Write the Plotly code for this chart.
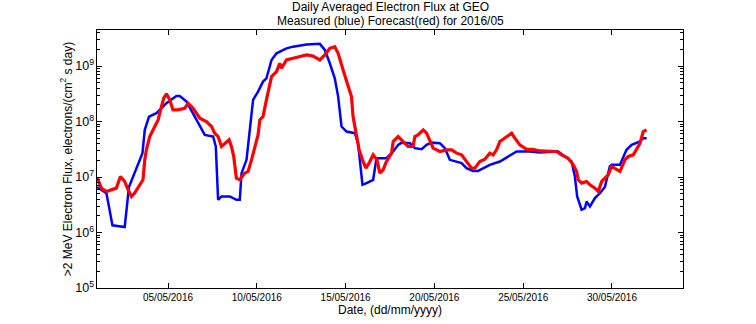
import plotly.graph_objects as go
import pandas as pd

# Measured (blue): day of May 2016 (fractional) and log10 flux
meas_day = [1.00, 1.53, 1.87, 2.56, 2.80, 3.12, 3.41, 3.56, 3.69, 3.93, 4.35, 4.91, 5.47, 5.66,
            6.04, 6.41, 6.79, 7.07, 7.54, 7.69, 7.82, 8.01, 8.48, 8.85, 9.04, 9.14, 9.42, 9.60,
            9.79, 10.07, 10.35, 10.54, 10.83, 11.11, 11.67, 12.04, 12.80, 13.55, 13.83, 14.11,
            14.39, 14.58, 14.77, 15.05, 15.52, 15.70, 15.95, 16.18, 16.55, 16.74, 17.30, 17.68,
            17.96, 18.15, 18.62, 18.90, 19.28, 19.56, 19.84, 20.31, 20.59, 20.87, 21.25, 21.53,
            21.81, 22.18, 22.46, 22.75, 23.12, 23.69, 24.15, 24.63, 25.38, 25.94, 26.97, 27.35,
            27.73, 27.91, 28.04, 28.29, 28.48, 28.57, 28.76, 29.04, 29.32, 29.60, 29.88, 29.98,
            30.45, 30.82, 31.11, 31.58, 31.76, 31.95]
meas_log = [6.82, 6.71, 6.13, 6.10, 6.82, 7.07, 7.28, 7.43, 7.85, 8.09, 8.15, 8.33, 8.46, 8.46,
            8.36, 8.15, 7.91, 7.76, 7.73, 7.55, 6.59, 6.65, 6.65, 6.59, 6.59, 7.07, 7.31, 7.85,
            8.39, 8.54, 8.72, 8.78, 9.11, 9.23, 9.32, 9.35, 9.39, 9.40, 9.29, 9.05,
            8.78, 8.45, 7.91, 7.82, 7.79, 7.61, 6.86, 6.89, 6.95, 7.34, 7.34, 7.46,
            7.58, 7.62, 7.61, 7.52, 7.50, 7.58, 7.62, 7.61, 7.52, 7.31, 7.28, 7.25,
            7.16, 7.11, 7.11, 7.16, 7.22, 7.28, 7.37, 7.46, 7.46, 7.44, 7.46, 7.37,
            7.28, 7.01, 6.65, 6.41, 6.44, 6.56, 6.47, 6.62, 6.71, 6.82, 7.19, 7.22,
            7.22, 7.49, 7.58, 7.64, 7.70, 7.70]

# Forecast (red)
fc_day = [1.00, 1.25, 1.53, 1.90, 2.09, 2.32, 2.56, 2.75, 2.94, 3.12, 3.31, 3.59, 3.69, 3.78,
          3.97, 4.25, 4.44, 4.63, 4.76, 4.91, 5.10, 5.28, 5.56, 5.94, 6.13, 6.41, 6.79, 7.16,
          7.45, 7.63, 7.82, 8.01, 8.25, 8.44, 8.57, 8.70, 8.85, 9.04, 9.32, 9.51, 9.70, 9.88,
          10.07, 10.17, 10.35, 10.54, 10.73, 10.83, 11.11, 11.29, 11.39, 11.67, 12.04, 12.32,
          12.52, 12.80, 13.17, 13.55, 13.83, 14.11, 14.39, 14.58, 14.86, 15.14, 15.33, 15.42,
          15.58, 15.76, 15.95, 16.14, 16.32, 16.55, 16.77, 16.93, 17.11, 17.30, 17.59, 17.68,
          17.96, 18.24, 18.52, 18.80, 18.90, 19.08, 19.37, 19.56, 19.74, 19.93, 20.31, 20.68,
          20.97, 21.25, 21.53, 21.81, 22.09, 22.28, 22.56, 22.84, 23.12, 23.31, 23.50, 23.69,
          23.97, 24.35, 24.53, 24.81, 25.19, 25.56, 25.94, 26.88, 27.16, 27.53, 27.82, 28.01,
          28.10, 28.29, 28.57, 28.76, 29.04, 29.23, 29.42, 29.60, 29.79, 29.98, 30.26, 30.45,
          30.73, 30.92, 31.20, 31.39, 31.58, 31.76, 31.95]
fc_log = [6.99, 6.80, 6.74, 6.77, 6.80, 7.01, 6.92, 6.77, 6.65, 6.71, 6.80, 6.95, 7.31, 7.49,
          7.73, 7.91, 8.03, 8.27, 8.42, 8.50, 8.39, 8.21, 8.21, 8.24, 8.33, 8.24, 8.06, 8.00,
          7.91, 7.79, 7.73, 7.55, 7.61, 7.67, 7.55, 7.37, 6.98, 6.95, 7.07, 7.10, 7.31, 7.55,
          7.76, 8.03, 8.09, 8.39, 8.66, 8.81, 8.90, 9.05, 8.96, 9.11, 9.14, 9.16,
          9.18, 9.20, 9.18, 9.11, 9.20, 9.32, 9.35, 9.23, 8.93, 8.63, 8.45, 8.09,
          7.79, 7.49, 7.31, 7.16, 7.25, 7.40, 7.31, 7.07, 7.13, 7.28, 7.43, 7.64,
          7.73, 7.64, 7.55, 7.55, 7.73, 7.76, 7.85, 7.79, 7.67, 7.52, 7.46, 7.49,
          7.49, 7.43, 7.40, 7.28, 7.16, 7.16, 7.28, 7.32, 7.43, 7.40, 7.49, 7.64,
          7.70, 7.79, 7.70, 7.58, 7.50, 7.50, 7.47, 7.46, 7.40, 7.34, 7.22, 7.10,
          6.95, 6.89, 6.92, 6.86, 6.80, 6.74, 6.92, 6.98, 7.04, 7.19, 7.13, 7.10,
          7.31, 7.37, 7.40, 7.52, 7.61, 7.82, 7.85]

tick_days = [5, 10, 15, 20, 25, 30]
title_lines = ["Daily Averaged Electron Flux at GEO", "Measured (blue) Forecast(red) for 2016/05"]

base = pd.Timestamp("2016-05-01")
def to_dt(days):
    return [base + pd.Timedelta(days=d - 1) for d in days]

fig = go.Figure()
fig.add_trace(go.Scatter(x=to_dt(meas_day), y=[10 ** v for v in meas_log], mode="lines",
                         line=dict(color="#0000ff", width=2.5), showlegend=False))
fig.add_trace(go.Scatter(x=to_dt(fc_day), y=[10 ** v for v in fc_log], mode="lines",
                         line=dict(color="#ff0000", width=3.2), showlegend=False))

font = "Liberation Sans, Arial, sans-serif"
fig.update_layout(
    width=756, height=324,
    margin=dict(l=97, r=73, t=30, b=36),
    paper_bgcolor="white", plot_bgcolor="white",
    font=dict(family=font, size=10, color="black"),
)
# two-line title placed above the plot area
for i, line in enumerate(title_lines):
    fig.add_annotation(text=line, xref="paper", yref="paper", x=0.5, y=1.089 - i * 0.054,
                       xanchor="center", yanchor="middle", showarrow=False,
                       font=dict(size=12, family=font, color="black"))

fig.update_xaxes(
    type="date",
    range=[base, base + pd.Timedelta(days=33)],
    tickvals=to_dt(tick_days),
    tickformat="%d/%m/%Y",
    ticks="inside", ticklen=5, tickwidth=1, tickcolor="black",
    showline=True, linecolor="black", linewidth=1, mirror="ticks",
    showgrid=False, zeroline=False,
    title=dict(text="Date, (dd/mm/yyyy)", font=dict(size=12), standoff=1),
    tickfont=dict(size=10),
)
fig.update_yaxes(
    type="log",
    range=[5, 9.65],
    dtick=1,
    exponentformat="power",
    ticks="inside", ticklen=5, tickwidth=1, tickcolor="black",
    minor=dict(ticks="inside", ticklen=3, tickcolor="black", showgrid=False),
    showline=True, linecolor="black", linewidth=1, mirror="ticks",
    showgrid=False, zeroline=False,
    title=dict(text=">2 MeV Electron Flux, electrons/(cm<sup>2</sup> s day)", font=dict(size=12), standoff=0),
    tickfont=dict(size=10),
)

fig.write_html("out.html")
